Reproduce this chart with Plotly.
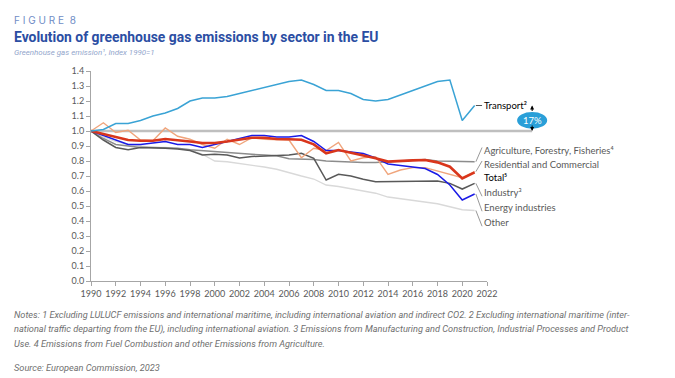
import plotly.graph_objects as go

years = list(range(1990, 2022))
transport = [1.00, 1.01, 1.05, 1.05, 1.07, 1.10, 1.12, 1.15, 1.20, 1.22, 1.22, 1.23, 1.25, 1.27, 1.29, 1.31,
             1.33, 1.34, 1.31, 1.27, 1.27, 1.25, 1.21, 1.20, 1.21, 1.24, 1.27, 1.30, 1.33, 1.34, 1.07, 1.17]
agriculture = [1.00, 0.95, 0.91, 0.90, 0.89, 0.89, 0.89, 0.885, 0.875, 0.87, 0.86, 0.855, 0.85, 0.845, 0.84, 0.835,
               0.815, 0.815, 0.81, 0.80, 0.795, 0.79, 0.79, 0.79, 0.795, 0.80, 0.80, 0.81, 0.80, 0.80, 0.80, 0.795]
residential = [1.00, 1.055, 0.99, 1.005, 0.94, 0.935, 1.02, 0.965, 0.945, 0.91, 0.885, 0.945, 0.91, 0.955, 0.945, 0.945,
               0.94, 0.822, 0.885, 0.87, 0.924, 0.80, 0.822, 0.829, 0.711, 0.74, 0.756, 0.756, 0.733, 0.707, 0.689, 0.729]
total = [1.00, 0.98, 0.955, 0.94, 0.935, 0.935, 0.947, 0.94, 0.93, 0.92, 0.92, 0.93, 0.94, 0.955, 0.955, 0.947,
         0.945, 0.942, 0.911, 0.851, 0.873, 0.856, 0.84, 0.818, 0.796, 0.802, 0.804, 0.807, 0.791, 0.762, 0.684, 0.724]
industry = [1.00, 0.94, 0.89, 0.875, 0.89, 0.89, 0.885, 0.88, 0.87, 0.84, 0.845, 0.84, 0.82, 0.83, 0.835, 0.835,
            0.84, 0.851, 0.818, 0.673, 0.711, 0.70, 0.678, 0.662, 0.662, 0.662, 0.662, 0.667, 0.667, 0.651, 0.613, 0.651]
energy = [1.00, 0.97, 0.94, 0.91, 0.91, 0.92, 0.93, 0.91, 0.91, 0.89, 0.91, 0.93, 0.95, 0.97, 0.97, 0.96,
          0.96, 0.97, 0.93, 0.87, 0.87, 0.86, 0.85, 0.82, 0.78, 0.77, 0.76, 0.75, 0.71, 0.64, 0.54, 0.58]
other = [1.00, 0.96, 0.93, 0.91, 0.90, 0.89, 0.89, 0.885, 0.875, 0.845, 0.80, 0.795, 0.785, 0.775, 0.76, 0.745,
         0.72, 0.70, 0.68, 0.64, 0.63, 0.615, 0.595, 0.585, 0.56, 0.55, 0.54, 0.53, 0.515, 0.495, 0.475, 0.47]

labels = ["Transport²", "Agriculture, Forestry, Fisheries⁴", "Residential and Commercial", "Total⁵",
          "Industry³", "Energy industries", "Other"]
label_y = [1.173, 0.873, 0.78, 0.687, 0.587, 0.487, 0.387]
badge_text = "17%"
x_ticks = list(range(1990, 2023, 2))

series = [
    ("Other", other, "#d9d9d9", 1.3),
    ("Agriculture", agriculture, "#8c8c8c", 1.4),
    ("Industry", industry, "#595959", 1.5),
    ("Residential", residential, "#f0a57c", 1.4),
    ("Energy", energy, "#1a1ae6", 1.5),
    ("Total", total, "#d9361c", 2.6),
    ("Transport", transport, "#3aa3d5", 1.5),
]

fig = go.Figure()
for name, vals, col, w in series:
    fig.add_trace(go.Scatter(x=years, y=vals, mode="lines", name=name,
                             line=dict(color=col, width=w), showlegend=False, hoverinfo="skip"))

shapes = []
# reference line at 1.0 extending to the badge
shapes.append(dict(type="line", xref="paper", yref="y", x0=0, x1=1.114, y0=1.0, y1=1.0,
                   line=dict(color="#bfbfbf", width=2.5), layer="below"))
# leader lines
ends = [transport[-1], agriculture[-1], residential[-1], None, industry[-1], energy[-1], other[-1]]
leader_tip = [1.17, 0.89, 0.80, None, 0.565, 0.465, 0.365]
for e, t in zip(ends, leader_tip):
    if e is None:
        continue
    col = "#404040" if t == 1.17 else "#8c8c8c"
    shapes.append(dict(type="line", xref="x", yref="y", x0=2021.1, x1=2021.6, y0=e, y1=t,
                       line=dict(color=col, width=0.9)))
# badge
shapes.append(dict(type="circle", xref="paper", yref="y", x0=1.076, x1=1.152, y0=1.015, y1=1.127,
                   fillcolor="#2a9fd8", line=dict(width=0)))

annotations = []
for i, (lab, ly) in enumerate(zip(labels, label_y)):
    col = "#000000" if i in (0, 3) else "#595959"
    annotations.append(dict(x=2021.62, y=ly, xref="x", yref="y", text=lab, showarrow=False,
                            xanchor="left", yanchor="middle",
                            font=dict(family="Lato", size=9.5, color=col)))
annotations.append(dict(x=1.114, y=1.071, xref="paper", yref="y", text=badge_text, showarrow=False,
                        xanchor="center", yanchor="middle",
                        font=dict(family="Lato", size=9.5, color="white")))
annotations.append(dict(x=1.114, y=transport[-1], xref="paper", yref="y", text="", showarrow=True,
                        ax=0, ay=7, arrowhead=2, arrowsize=0.8, arrowwidth=1, arrowcolor="#000"))
annotations.append(dict(x=1.114, y=1.0, xref="paper", yref="y", text="", showarrow=True,
                        ax=0, ay=-7, arrowhead=2, arrowsize=0.8, arrowwidth=1, arrowcolor="#000"))

def py(p):
    return (281 - p) / 210.0

def px(p):
    return (p - 91) / 396.0

note_font = dict(family="Roboto", size=9.2, color="#6f6f6f")
annotations += [
    dict(x=px(12), y=py(20), text="F I G U R E  8", font=dict(family="Inter", size=10, color="#6f8dc6")),
    dict(x=px(12), y=py(37), text="<b>Evolution of greenhouse gas emissions by sector in the EU</b>",
         font=dict(family="Roboto", size=13.9, color="#2b4ea3")),
    dict(x=px(12), y=py(52), text="<i>Greenhouse gas emission¹, Index 1990=1</i>",
         font=dict(family="Roboto", size=7.9, color="#93a6cc")),
    dict(x=px(12), y=py(315), text="<i>Notes: 1 Excluding LULUCF emissions and international maritime, including international aviation and indirect CO2. 2 Excluding international maritime (inter-</i>",
         font=note_font),
    dict(x=px(12), y=py(329), text="<i>national traffic departing from the EU), including international aviation. 3 Emissions from Manufacturing and Construction, Industrial Processes and Product</i>",
         font=note_font),
    dict(x=px(12), y=py(343), text="<i>Use. 4 Emissions from Fuel Combustion and other Emissions from Agriculture.</i>",
         font=note_font),
    dict(x=px(12), y=py(367), text="<i>Source: European Commission, 2023</i>",
         font=note_font),
]
for a in annotations[-7:]:
    a.update(xref="paper", yref="paper", showarrow=False, xanchor="left", yanchor="middle")

fig.update_layout(
    width=675, height=378,
    margin=dict(l=91, r=188, t=71, b=97),
    paper_bgcolor="white", plot_bgcolor="white",
    shapes=shapes, annotations=annotations,
    xaxis=dict(range=[1990, 2022], tickvals=x_ticks, ticks="outside", ticklen=4, tickcolor="#a6a6a6",
               showline=True, linecolor="#a6a6a6", linewidth=1, showgrid=False, zeroline=False,
               tickfont=dict(family="Lato", size=9, color="#595959")),
    yaxis=dict(range=[0, 1.4], dtick=0.1, tickformat=".1f", ticks="outside", ticklen=4, tickcolor="#a6a6a6",
               showline=True, linecolor="#a6a6a6", linewidth=1, showgrid=False, zeroline=False,
               tickfont=dict(family="Lato", size=9, color="#595959")),
)

fig.write_html("out.html")
